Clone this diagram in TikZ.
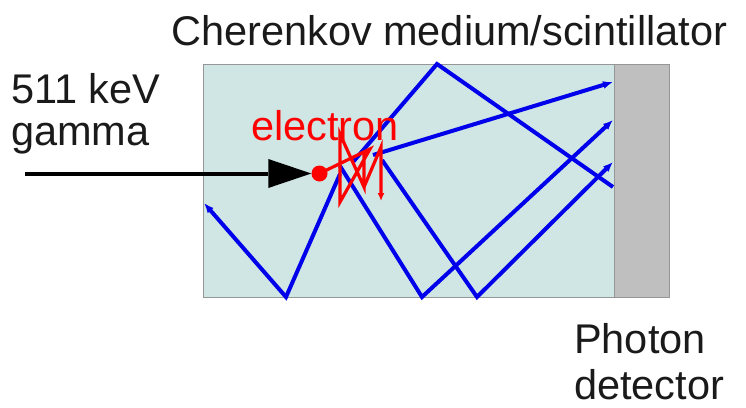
\documentclass[tikz,border=0pt]{standalone}
\usepackage{fontspec}
\setmainfont{Liberation Sans}
\usetikzlibrary{arrows.meta}
\definecolor{medium}{RGB}{208,230,228}
\definecolor{detgray}{RGB}{191,191,191}
\definecolor{edgegray}{RGB}{150,150,150}
\definecolor{ink}{RGB}{26,26,26}
\definecolor{rayblue}{RGB}{0,0,235}
\definecolor{trackred}{RGB}{255,0,0}
\begin{document}
\begin{tikzpicture}[x=1pt,y=-1pt,
  lbl/.style={font=\fontsize{41.5}{42}\selectfont, text=ink, inner sep=0pt, anchor=base west, align=left},
  photon/.style={draw=rayblue, line width=4pt},
  photonend/.style={photon, -{Latex[length=10pt,width=8pt]}},
  track/.style={draw=trackred, line width=3.2pt},
  block/.style={draw=edgegray, line width=1.2pt, inner sep=0pt, anchor=north west}]
\useasboundingbox (0,0) rectangle (746,407);

% medium and detector
\node[block, fill=medium, minimum width=411pt, minimum height=233pt] (medium) at (203,64) {};
\node[block, fill=detgray, minimum width=55pt, minimum height=233pt] (detector) at (614,64) {};

% labels
\node[lbl] (title) at (171,45) {Cherenkov medium/scintillator};
\node[lbl] (gamma) at (11,145) {511 keV\\gamma};
\node[lbl, font=\fontsize{41.5}{46}\selectfont] (detlabel) at (574,399) {Photon\\detector};

% photon paths
\coordinate (p1s) at (373,155); \coordinate (p1e) at (613,82);
\coordinate (p2s) at (382,160); \coordinate (p2b) at (477,297); \coordinate (p2e) at (613,162);
\coordinate (p3s) at (340,166); \coordinate (p3b) at (422,297); \coordinate (p3e) at (613,120);
\coordinate (p4s) at (353,162); \coordinate (p4t) at (437,64);  \coordinate (p4e) at (613,187);
\coordinate (p5s) at (340,174); \coordinate (p5b) at (286,297); \coordinate (p5e) at (204,203);
\draw[photonend] (p1s) -- (p1e);
\draw[photonend] (p2s) -- (p2b) -- (p2e);
\draw[photonend] (p3s) -- (p3b) -- (p3e);
\draw[photon] (p4s) -- (p4t) -- (p4e);
\draw[photonend] (p5s) -- (p5b) -- (p5e);

% electron
\node[circle, fill=trackred, minimum size=16pt, inner sep=0pt] (electron) at (319.5,173.5) {};
\node[lbl, text=trackred] (elabel) at (251,140) {electron};
\coordinate (t1) at (370,149); \coordinate (t2) at (340,202); \coordinate (t3) at (340,134);
\coordinate (t4) at (364,187); \coordinate (t5) at (364,151); \coordinate (t6) at (381,147);
\coordinate (t7) at (381,201);
\draw[track] (electron.center) -- (t1) -- (t2) -- (t3) -- (t4) -- (t5);
\draw[track, -{Latex[length=8pt,width=7pt]}] (t4) -- (t6) -- (t7);

% incoming gamma
\coordinate (gsrc) at (25,173.5);
\draw[line width=4pt, -{Triangle[length=43pt,width=29pt,line width=0pt]}] (gsrc) -- (electron.west);
\end{tikzpicture}
\end{document}
